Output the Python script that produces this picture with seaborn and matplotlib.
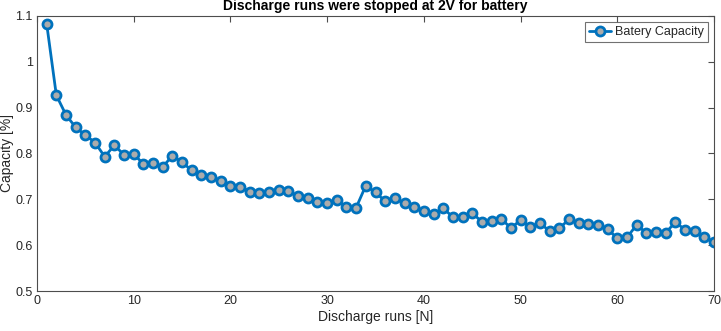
import matplotlib
matplotlib.use("Agg")
import matplotlib.pyplot as plt
import seaborn as sns
import pandas as pd
from matplotlib.ticker import FuncFormatter

runs = list(range(1, 71))
capacity = [1.083, 0.927, 0.884, 0.857, 0.840, 0.824, 0.793, 0.818, 0.797, 0.799,
            0.777, 0.779, 0.771, 0.795, 0.781, 0.763, 0.753, 0.749, 0.741, 0.730,
            0.728, 0.717, 0.713, 0.715, 0.720, 0.718, 0.707, 0.704, 0.694, 0.691,
            0.698, 0.683, 0.682, 0.730, 0.715, 0.696, 0.702, 0.691, 0.684, 0.675,
            0.667, 0.681, 0.661, 0.662, 0.670, 0.651, 0.652, 0.658, 0.637, 0.655,
            0.640, 0.649, 0.630, 0.637, 0.656, 0.648, 0.646, 0.643, 0.635, 0.615,
            0.617, 0.644, 0.627, 0.629, 0.627, 0.650, 0.634, 0.630, 0.618, 0.607]
series_label = "Batery Capacity"
title = "Discharge runs were stopped at 2V for battery"
xlabel = "Discharge runs [N]"
ylabel = "Capacity [%]"

df = pd.DataFrame({"run": runs, "cap": capacity, "series": series_label})

sns.set_style("white")
plt.rcParams['font.family'] = ['Liberation Sans', 'DejaVu Sans']

fig = plt.figure(figsize=(7.21, 3.31), dpi=100)
ax = fig.add_axes([37/721, 1 - 291/331, (714-37)/721, (291-16)/331])

blue = "#0072BD"
sns.lineplot(data=df, x="run", y="cap", hue="series", palette=[blue], ax=ax,
             marker="o", markersize=6.5, markerfacecolor="#ababab",
             markeredgecolor=blue, markeredgewidth=2, linewidth=2)

ax.set_xlim(0, 70)
ax.set_ylim(0.5, 1.1)
ax.set_xticks(range(0, 71, 10))
ax.set_yticks([0.5, 0.6, 0.7, 0.8, 0.9, 1.0, 1.1])
ax.yaxis.set_major_formatter(FuncFormatter(
    lambda v, p: "%d" % round(v) if abs(v - round(v)) < 1e-9 else ("%.1f" % v)))
ax.tick_params(direction="in", top=True, right=True, length=4, width=0.8,
               colors="#4d4d4d", labelsize=9, labelcolor="#262626", pad=3)
for s in ax.spines.values():
    s.set_visible(True)
    s.set_color("#4d4d4d")
    s.set_linewidth(0.8)

ax.set_title(title, fontsize=10, fontweight="bold", pad=4, color="black")
ax.set_xlabel(xlabel, fontsize=10, color="#262626", labelpad=2)
ax.set_ylabel(ylabel, fontsize=10, color="#262626")
ax.yaxis.set_label_coords(-0.0345, 0.5)

leg = ax.legend(loc="upper right", fontsize=9, frameon=True, fancybox=False,
                edgecolor="#4d4d4d", handlelength=1.8, borderpad=0.3,
                handletextpad=0.3, borderaxespad=0.5)
leg.get_frame().set_linewidth(0.8)

fig.savefig("out.png", dpi=100)
